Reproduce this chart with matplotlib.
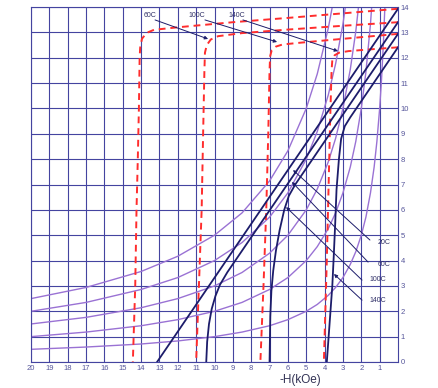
import matplotlib
matplotlib.use("Agg")
import matplotlib.pyplot as plt

# ---- data (H in kOe, B/J in kG) ----
temps = ["20C", "60C", "100C", "140C"]

# intrinsic (J) curves, red dashed
j_h = [
    [0, 3, 6, 9, 12, 13.3, 13.7, 13.95, 14.05, 14.08, 14.12, 14.18, 14.25, 14.32, 14.45],
    [0, 3, 6, 8.5, 9.8, 10.2, 10.42, 10.52, 10.55, 10.62, 10.7, 10.85, 11.0],
    [0, 2, 4, 5.5, 6.3, 6.65, 6.88, 6.97, 7.0, 7.07, 7.18, 7.33, 7.5],
    [0, 1.5, 2.7, 3.2, 3.45, 3.58, 3.62, 3.7, 3.78, 3.88, 4.04],
]
j_b = [
    [13.93, 13.75, 13.57, 13.4, 13.2, 13.1, 12.98, 12.75, 12.4, 12.0, 10.0, 8.0, 6.0, 3.0, 0],
    [13.4, 13.26, 13.11, 12.97, 12.85, 12.72, 12.5, 12.2, 11.5, 9.0, 6.0, 3.0, 0],
    [12.94, 12.81, 12.68, 12.58, 12.52, 12.44, 12.3, 12.05, 11.5, 9.0, 6.0, 3.0, 0],
    [12.41, 12.33, 12.26, 12.2, 12.1, 11.9, 11.5, 9.5, 7.0, 4.0, 0],
]

# normal (B) curves, dark solid
b_h = [
    [0, 6.5, 13.13],
    [0, 9.3, 9.7, 9.95, 10.15, 10.3, 10.4, 10.45],
    [0, 5.6, 5.95, 6.2, 6.45, 6.65, 6.8, 6.9, 6.96, 7.0],
    [0, 2.6, 2.9, 3.1, 3.22, 3.35, 3.42, 3.5, 3.58, 3.68, 3.78, 3.88],
]
b_b = [
    [13.93, 7.04, 0],
    [13.4, 3.54, 3.05, 2.6, 2.1, 1.5, 0.8, 0],
    [12.94, 7.0, 6.55, 6.0, 5.2, 4.4, 3.6, 2.8, 1.8, 0],
    [12.41, 9.65, 9.3, 8.8, 8.0, 6.8, 5.5, 4.2, 3.0, 2.0, 1.0, 0],
]

# energy product curves (MGOe), purple
iso_h = [20, 17, 14, 12, 10, 8.5, 7, 6, 5, 4.4, 3.8, 3.4, 3, 2.6, 2.3, 2,
         1.75, 1.5, 1.3, 1.15, 1, 0.9, 0.8, 0.7]
iso_b = [
    [0.5, 0.59, 0.71, 0.83, 1.0, 1.18, 1.43, 1.67, 2.0, 2.27, 2.63, 2.94, 3.33,
     3.85, 4.35, 5.0, 5.71, 6.67, 7.69, 8.7, 10.0, 11.11, 12.5, 14.29],
    [1.0, 1.18, 1.43, 1.67, 2.0, 2.35, 2.86, 3.33, 4.0, 4.55, 5.26, 5.88, 6.67,
     7.69, 8.7, 10.0, 11.43, 13.33, 15.38],
    [1.5, 1.76, 2.14, 2.5, 3.0, 3.53, 4.29, 5.0, 6.0, 6.82, 7.89, 8.82, 10.0,
     11.54, 13.04, 15.0],
    [2.0, 2.35, 2.86, 3.33, 4.0, 4.71, 5.71, 6.67, 8.0, 9.09, 10.53, 11.76,
     13.33, 15.38],
    [2.5, 2.94, 3.57, 4.17, 5.0, 5.88, 7.14, 8.33, 10.0, 11.36, 13.16, 14.71],
]

x_ticks = list(range(1, 21))
y_ticks = list(range(0, 15))

# label positions / arrow targets (data coords)
top_lbl = [(13.5, 13.68), (10.95, 13.68), (8.77, 13.68)]
top_from = [(13.24, 13.49), (10.52, 13.49), (8.45, 13.49)]
top_to = [(10.35, 12.74), (6.59, 12.62), (3.27, 12.26)]
bot_lbl = [(1.09, 4.73), (1.09, 3.86), (1.53, 3.27), (1.53, 2.41)]
bot_from = [(1.53, 4.81), (1.63, 3.94), (1.96, 3.23), (1.96, 2.44)]
bot_to = [(5.72, 7.57), (5.78, 7.10), (6.10, 6.11), (3.49, 3.47)]

grid_col = "#4444a0"
navy = "#1c1c6a"
purple = "#9a72d4"
red = "#ff2d2d"
txt_col = "#2e2e66"

plt.rcParams["font.family"] = ["Liberation Sans", "DejaVu Sans"]

fig = plt.figure(figsize=(4.38, 3.88), dpi=100)
ax = fig.add_axes([31 / 438, 1 - 362 / 388, 367 / 438, 355 / 388])

for b in iso_b:
    ax.plot(iso_h[:len(b)], b, color=purple, lw=1.0, zorder=2)

for h, b in zip(j_h, j_b):
    ax.plot(h, b, color=red, lw=1.4, linestyle=(0, (3.5, 2.5)), zorder=3)

for h, b in zip(b_h, b_b):
    ax.plot(h, b, color=navy, lw=1.3, zorder=4)

ax.set_xlim(20, 0)
ax.set_ylim(0, 14)
ax.set_xticks(x_ticks)
ax.set_xticklabels([str(t) for t in x_ticks])
ax.set_yticks(y_ticks)
ax.yaxis.tick_right()
ax.tick_params(length=0, labelsize=5.5, colors="#55559a", pad=2)
ax.grid(True, color=grid_col, lw=0.8)
ax.set_axisbelow(True)
for s in ax.spines.values():
    s.set_color(grid_col)
    s.set_linewidth(0.8)

arrow = dict(arrowstyle="-|>", lw=0.7, color=navy, mutation_scale=5,
             shrinkA=0, shrinkB=0)
for name, p, a, b in zip(temps[1:], top_lbl, top_from, top_to):
    ax.text(p[0], p[1], name, fontsize=5, color=txt_col, ha="center", va="center", zorder=6)
    ax.annotate("", xy=b, xytext=a, arrowprops=arrow, zorder=6)
for name, p, a, b in zip(temps, bot_lbl, bot_from, bot_to):
    ax.text(p[0], p[1], name, fontsize=5, color=txt_col, ha="left", va="center", zorder=6)
    ax.annotate("", xy=b, xytext=a, arrowprops=arrow, zorder=6)

fig.text(300 / 438, 1 - 380 / 388, "-H(kOe)", fontsize=8.5, color="#333355",
         ha="center", va="center")

fig.savefig("out.png", dpi=100)
